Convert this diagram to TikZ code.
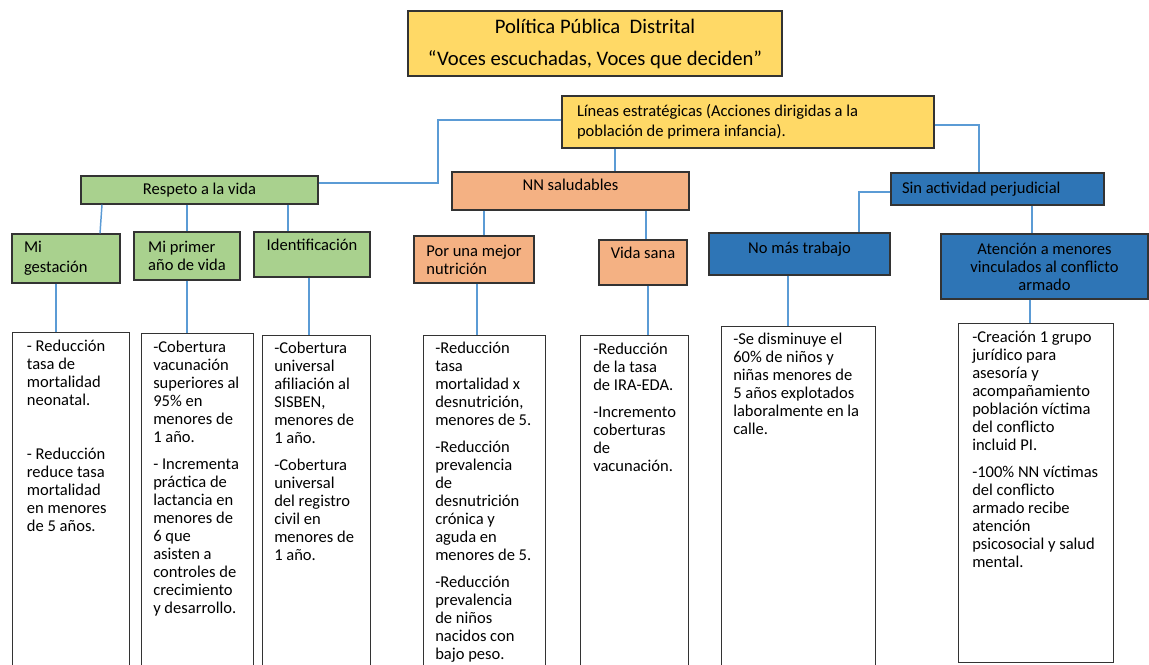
\documentclass[tikz,border=0pt]{standalone}
\usepackage{fontspec}
\setmainfont{Carlito}
\usetikzlibrary{positioning}

\definecolor{amarillo}{RGB}{255,217,102}
\definecolor{verde}{RGB}{169,209,142}
\definecolor{naranja}{RGB}{244,177,131}
\definecolor{azul}{RGB}{46,117,182}
\definecolor{enlace}{RGB}{91,155,213}
\newcommand{\txt}{\fontsize{12.4}{13.5}\selectfont}

\begin{document}
\begin{tikzpicture}[
    x=0.75pt, y=-0.75pt,
    box/.style={draw=black!80, line width=0.9pt, inner sep=0pt, align=center, font=\txt},
    yellowbox/.style={box, fill=amarillo},
    lifebox/.style={box, fill=verde},
    healthbox/.style={box, fill=naranja},
    workbox/.style={box, fill=azul},
    card/.style={draw=black!80, line width=0.9pt, anchor=north west, minimum height=270pt},
    cardtext/.style={inner sep=0pt, align=left, font=\txt},
    link/.style={draw=enlace, line width=1.1pt}
]
\useasboundingbox[fill=white] (0,0) rectangle (1149,664);

% Nodes
\node[yellowbox, minimum width=280.5pt, minimum height=48.75pt, font=\fontsize{15.5}{24}\selectfont] (politica) at (595,43.5) {Política Pública\ \ Distrital\\“Voces escuchadas, Voces que deciden”};
\node[yellowbox, minimum width=279pt, minimum height=39pt, text width=256.5pt, align=flush left, font=\fontsize{12.4}{15}\selectfont] (lineas) at (748,122) {Líneas estratégicas (Acciones dirigidas a la\\población de primera infancia).};

\node[lifebox, minimum width=177.75pt, minimum height=21pt] (respeto) at (199.5,190) {Respeto a la vida};
\node[healthbox, minimum width=177.75pt, minimum height=28.5pt, text depth=10pt] (saludables) at (570.5,191) {NN saludables};
\node[workbox, minimum width=159.75pt, minimum height=24pt, text width=143.25pt, align=flush left] (perjudicial) at (997.5,189) {Sin actividad perjudicial};

\node[lifebox, minimum width=81pt, minimum height=36.75pt, text width=63pt, align=flush left, font=\fontsize{12.4}{15}\selectfont] (gestacion) at (66,258.5) {Mi\\gestación};
\node[lifebox, minimum width=79.5pt, minimum height=36pt, align=left] (primer) at (187,256) {Mi primer\\año de vida};
\node[lifebox, minimum width=87pt, minimum height=33.75pt, text depth=15.3pt] (identif) at (312,254.5) {Identificación};
\node[healthbox, minimum width=90pt, minimum height=35.25pt, align=left] (nutricion) at (474,259.5) {Por una mejor\\nutrición};
\node[healthbox, minimum width=66pt, minimum height=33.75pt, text depth=15.3pt] (sana) at (643,262.5) {Vida sana};
\node[workbox, minimum width=135.75pt, minimum height=31.5pt, text depth=10pt] (trabajo) at (799.5,254) {No más trabajo};
\node[workbox, minimum width=155.25pt, minimum height=48.75pt] (armado) at (1044.5,266.5) {Atención a menores\\vinculados al conflicto\\armado};

\node[card, minimum width=87.75pt] (meta1) at (12,332) {};
\node[card, minimum width=84pt] (meta2) at (141,333) {};
\node[card, minimum width=81pt] (meta3) at (262,335) {};
\node[card, minimum width=91.5pt] (meta4) at (423,335) {};
\node[card, minimum width=81pt] (meta5) at (580,335) {};
\node[card, minimum width=115.5pt] (meta6) at (721,326) {};
\node[card, minimum width=116.25pt, minimum height=254.25pt] (meta7) at (958,323) {};

\node[cardtext, below right=5.6pt and 11pt of meta1.north west] (meta1txt) {- Reducción\\tasa de\\mortalidad\\neonatal.\\[27pt]- Reducción\\reduce tasa\\mortalidad\\en menores\\de 5 años.};
\node[cardtext, below right=5.8pt and 9pt of meta2.north west] (meta2txt) {-Cobertura\\vacunación\\superiores al\\95\% en\\menores de\\1 año.\\[6.75pt]- Incrementa\\práctica de\\lactancia en\\menores de\\6 que\\asisten a\\controles de\\crecimiento\\y desarrollo.};
\node[cardtext, below right=5pt and 9pt of meta3.north west] (meta3txt) {-Cobertura\\universal\\afiliación al\\SISBEN,\\menores de\\1 año.\\[6.75pt]-Cobertura\\universal\\del registro\\civil en\\menores de\\1 año.};
\node[cardtext, below right=5pt and 9pt of meta4.north west] (meta4txt) {-Reducción\\tasa\\mortalidad x\\desnutrición,\\menores de 5.\\[6.75pt]-Reducción\\prevalencia\\de\\desnutrición\\crónica y\\aguda en\\menores de 5.\\[6.75pt]-Reducción\\prevalencia\\de niños\\nacidos con\\bajo peso.};
\node[cardtext, below right=6pt and 9.75pt of meta5.north west] (meta5txt) {-Reducción\\de la tasa\\de IRA-EDA.\\[6.75pt]-Incremento\\coberturas\\de\\vacunación.};
\node[cardtext, below right=5pt and 9pt of meta6.north west] (meta6txt) {-Se disminuye el\\60\% de niños y\\niñas menores de\\5 años explotados\\laboralmente en la\\calle.};
\node[cardtext, below right=5.8pt and 10.5pt of meta7.north west] (meta7txt) {-Creación 1 grupo\\jurídico para\\asesoría y\\acompañamiento\\población víctima\\del conflicto\\incluid PI.\\[6.75pt]-100\% NN víctimas\\del conflicto\\armado recibe\\atención\\psicosocial y salud\\mental.};

% Lines
\draw[link] (lineas.west |- 0,120) -| (438,183) -- (respeto.east |- 0,183);
\draw[link] (lineas.south -| 615,0) -- (saludables.north -| 615,0);
\draw[link] (lineas.east |- 0,125) -| (perjudicial.north -| 979,0);

\draw[link] (respeto.south -| 102,0) -- (gestacion.north -| 100,0);
\draw[link] (respeto.south -| primer.north) -- (primer.north);
\draw[link] (respeto.south -| 288,0) -- (identif.north -| 288,0);
\draw[link] (saludables.south -| 484,0) -- (nutricion.north -| 484,0);
\draw[link] (saludables.south -| 646,0) -- (sana.north -| 646,0);
\draw[link] (perjudicial.west |- 0,192) -| (trabajo.north -| 859,0);
\draw[link] (perjudicial.south -| 1032,0) -- (armado.north -| 1032,0);

\draw[link] (gestacion.south -| 56,0) -- (meta1.north -| 56,0);
\draw[link] (primer.south) -- (meta2.north -| primer.south);
\draw[link] (identif.south -| 309,0) -- (meta3.north -| 309,0);
\draw[link] (nutricion.south -| 477,0) -- (meta4.north -| 477,0);
\draw[link] (sana.south -| 648,0) -- (meta5.north -| 648,0);
\draw[link] (trabajo.south -| 788,0) -- (meta6.north -| 788,0);
\draw[link] (armado.south -| 1030,0) -- (meta7.north -| 1030,0);

\end{tikzpicture}
\end{document}
